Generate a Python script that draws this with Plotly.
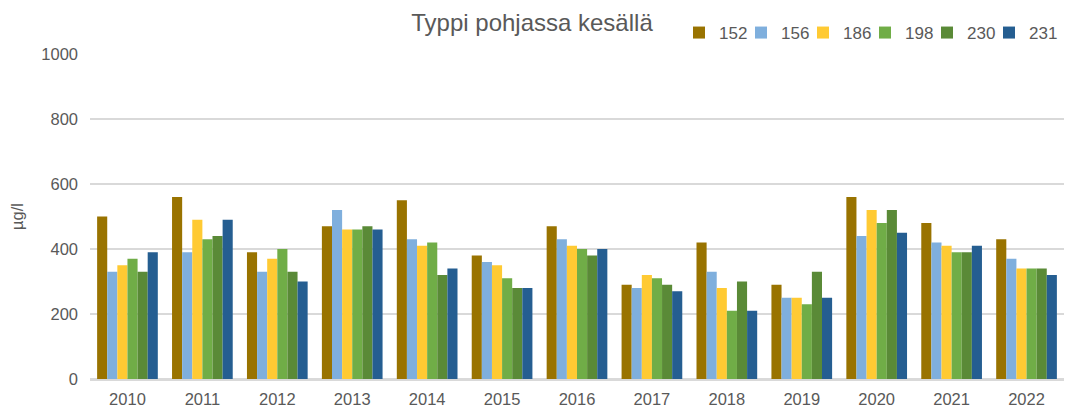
import plotly.graph_objects as go

years = ["2010", "2011", "2012", "2013", "2014", "2015", "2016", "2017", "2018", "2019", "2020", "2021", "2022"]
series_names = ["152", "156", "186", "198", "230", "231"]
s152 = [500, 560, 390, 470, 550, 380, 470, 290, 420, 290, 560, 480, 430]
s156 = [330, 390, 330, 520, 430, 360, 430, 280, 330, 250, 440, 420, 370]
s186 = [350, 490, 370, 460, 410, 350, 410, 320, 280, 250, 520, 410, 340]
s198 = [370, 430, 400, 460, 420, 310, 400, 310, 210, 230, 480, 390, 340]
s230 = [330, 440, 330, 470, 320, 280, 380, 290, 300, 330, 520, 390, 340]
s231 = [390, 490, 300, 460, 340, 280, 400, 270, 210, 250, 450, 410, 320]
colors = ["#997300", "#7FAFDD", "#FFCA33", "#70AD47", "#5A8A37", "#255E91"]

values = [s152, s156, s186, s198, s230, s231]

# The page body has an 8px margin, so the figure is drawn 8px in from the top-left.
W, H = 1066, 402
OFF = 8
font_family = "Liberation Sans, Arial, sans-serif"
txt = "#595959"

fig = go.Figure()
legend_defs = {}
for i, (name, vals, col) in enumerate(zip(series_names, values, colors)):
    lg = "legend" if i == 0 else f"legend{i + 1}"
    fig.add_trace(go.Bar(
        x=years, y=vals, name=name, legend=lg, showlegend=True,
        marker=dict(color=col, line=dict(width=0)),
    ))
    legend_defs[lg] = dict(
        orientation="h", xref="container", yref="container",
        x=(679 + i * 62 - OFF) / W, xanchor="left",
        y=1 - (33 - OFF) / H, yanchor="middle",
        font=dict(size=17, color=txt), itemwidth=30,
        bgcolor="rgba(0,0,0,0)", borderwidth=0,
    )

fig.update_layout(
    width=W, height=H, showlegend=True,
    barmode="group", bargap=0.19, bargroupgap=0,
    plot_bgcolor="white", paper_bgcolor="white",
    margin=dict(l=90 - OFF, r=10, t=54 - OFF, b=31, autoexpand=False),
    font=dict(family=font_family, size=16.5, color=txt),
    title=dict(text="Typpi pohjassa kesällä", x=(532 - OFF) / W, xanchor="center",
               y=1 - (23 - OFF) / H, yanchor="middle", yref="container",
               font=dict(size=24, color=txt)),
    xaxis=dict(showgrid=False, showline=True, linecolor="#D9D9D9", linewidth=1.5,
               ticks="", ticklabelstandoff=4,
               tickfont=dict(size=16.5, color=txt)),
    yaxis=dict(range=[0, 1000], dtick=200, showgrid=True, gridcolor="#D9D9D9",
               gridwidth=1.5, zeroline=True, zerolinecolor="#D9D9D9", zerolinewidth=1.5,
               ticks="", ticklabelstandoff=11,
               tickfont=dict(size=16.5, color=txt),
               title=dict(text="µg/l", font=dict(size=16.5, color=txt), standoff=14)),
    **legend_defs,
)

fig.write_html("out.html")
